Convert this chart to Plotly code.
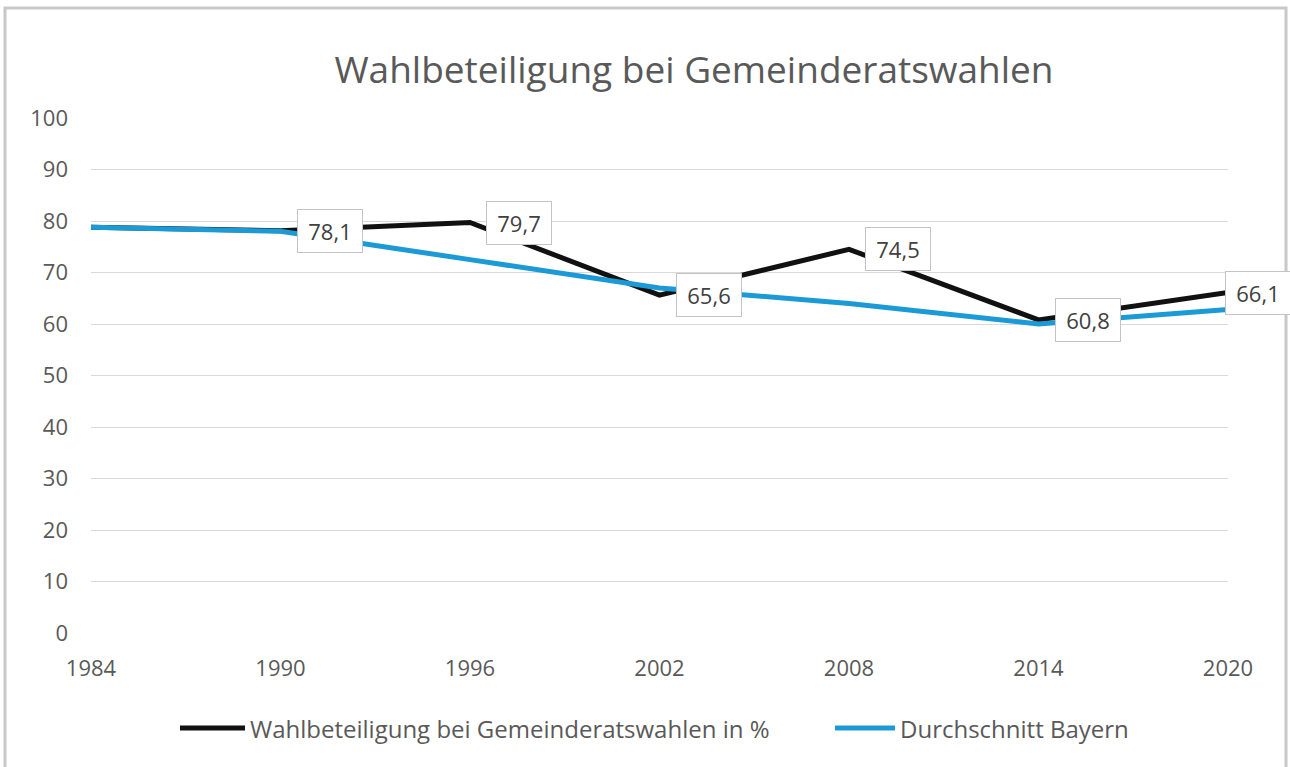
import plotly.graph_objects as go

# Election years and turnout values (percent)
years = [1984, 1990, 1996, 2002, 2008, 2014, 2020]
turnout_gemeinde = [78.8, 78.1, 79.7, 65.6, 74.5, 60.8, 66.1]
turnout_bayern = [78.8, 78.0, 72.5, 67.0, 64.0, 60.0, 62.8]

name_gemeinde = "Wahlbeteiligung bei Gemeinderatswahlen in %"
name_bayern = "Durchschnitt Bayern"
title_text = "Wahlbeteiligung bei Gemeinderatswahlen"

# Years that carry a value label, with the horizontal nudge of each box
label_years = [1990, 1996, 2002, 2008, 2014, 2020]
label_shift = [16, 16, 16, 16, 16, -3]

FONT = "Open Sans"
GREY_TEXT = "#595959"
BLACK = "#111111"
BLUE = "#1B9AD6"

W, H = 1290, 767
ML, MR, MT, MB = 91, 62, 118, 134
plot_w = W - ML - MR
plot_h = H - MT - MB


def px_to_paper_x(px):
    return (px - ML) / plot_w


def px_to_paper_y(py):
    return (H - MB - py) / plot_h


fig = go.Figure()
series = [(name_gemeinde, turnout_gemeinde, BLACK),
          (name_bayern, turnout_bayern, BLUE)]
for name, vals, color in series:
    fig.add_trace(go.Scatter(
        x=years, y=vals, name=name, mode="lines",
        line=dict(color=color, width=5), showlegend=False,
    ))

# Value boxes next to the municipal turnout line
annotations = []
for yr, dx in zip(label_years, label_shift):
    v = turnout_gemeinde[years.index(yr)]
    annotations.append(dict(
        x=yr, y=v, xref="x", yref="y",
        text=f"{v:.1f}".replace(".", ","),
        showarrow=False, xanchor="left", yanchor="middle", xshift=dx,
        width=52, align="center",
        font=dict(family=FONT, size=22, color="#404040"),
        bgcolor="white", bordercolor="#c4c4c4", borderwidth=1, borderpad=6,
    ))

# Outer chart frame
shapes = [dict(
    type="rect", xref="paper", yref="paper",
    x0=px_to_paper_x(5), x1=px_to_paper_x(1286),
    y0=px_to_paper_y(800), y1=px_to_paper_y(8),
    line=dict(color="#c8c8c8", width=3), fillcolor="rgba(0,0,0,0)",
    layer="below",
)]

# Legend row below the x axis: line sample followed by the series name
legend_y = px_to_paper_y(728)
legend_items = [(name_gemeinde, BLACK, 180, 245),
                (name_bayern, BLUE, 835, 895)]
for name, color, x_start, x_end in legend_items:
    shapes.append(dict(
        type="line", xref="paper", yref="paper",
        x0=px_to_paper_x(x_start), x1=px_to_paper_x(x_end),
        y0=legend_y, y1=legend_y,
        line=dict(color=color, width=5),
    ))
    annotations.append(dict(
        x=px_to_paper_x(x_end + 3), y=legend_y, xref="paper", yref="paper",
        text=name, showarrow=False, xanchor="left", yanchor="middle",
        font=dict(family=FONT, size=24, color=GREY_TEXT),
    ))

fig.update_layout(
    width=W, height=H,
    margin=dict(l=ML, r=MR, t=MT, b=MB, pad=0),
    paper_bgcolor="white", plot_bgcolor="white",
    title=dict(
        text=title_text, x=(694) / W, xanchor="center",
        y=1 - 70 / H, yanchor="middle",
        font=dict(family=FONT, size=37, color=GREY_TEXT),
    ),
    xaxis=dict(
        range=[1984, 2020], tick0=1984, dtick=6, tickmode="linear",
        showgrid=False, zeroline=False, showline=False,
        ticks="", ticklabelstandoff=20,
        tickfont=dict(family=FONT, size=22, color=GREY_TEXT),
        fixedrange=True,
    ),
    yaxis=dict(
        range=[0, 100], tick0=0, dtick=10, tickmode="linear",
        showgrid=True, gridcolor="#d9d9d9", gridwidth=1,
        zeroline=False, showline=False,
        ticks="", ticklabelstandoff=22,
        tickfont=dict(family=FONT, size=22, color=GREY_TEXT),
        fixedrange=True,
    ),
    showlegend=False,
    annotations=annotations,
    shapes=shapes,
)

fig.write_html("out.html")
